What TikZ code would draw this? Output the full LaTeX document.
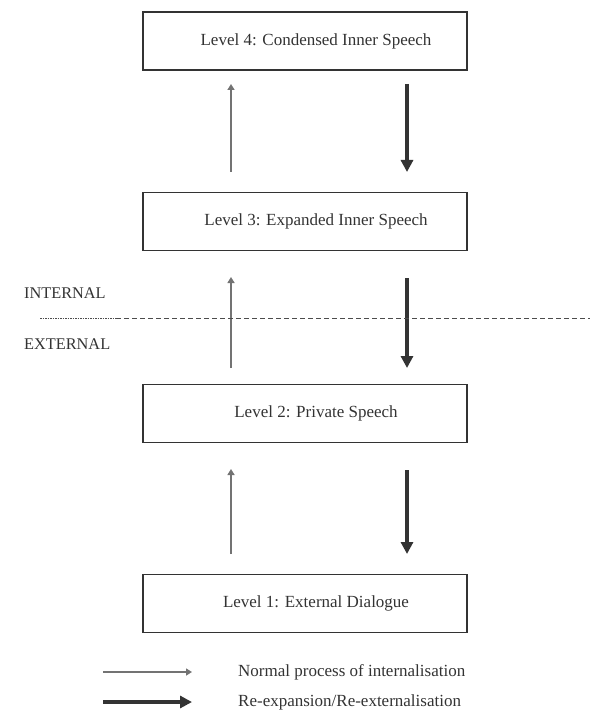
\documentclass[tikz,border=0pt]{standalone}
\usepackage{fontspec}
\setmainfont{Liberation Serif}
\usetikzlibrary{arrows.meta}
\begin{document}
\begin{tikzpicture}[x=1pt,y=-1pt,
  levelbox/.style={draw=black!80,line width=1.4pt,minimum width=324pt,minimum height=58pt,inner sep=0pt},
  leveltext/.style={font=\fontsize{17}{20}\selectfont,text=black!80,inner sep=0pt},
  thinarr/.style={draw=black!55,line width=2.1pt,-{Triangle[length=6pt,width=7pt]}},
  thickarr/.style={draw=black!80,line width=3.1pt,-{Triangle[length=12pt,width=12pt]}},
  side/.style={font=\fontsize{16.3}{19}\selectfont,text=black!80,anchor=west,inner sep=0pt},
  legtext/.style={font=\fontsize{17}{20}\selectfont,text=black!80,anchor=west,inner sep=0pt}]
\useasboundingbox (0,0) rectangle (590,711);
\node[levelbox] (l4) at (305,41) {};
\node[levelbox] (l3) at (305,221.5) {};
\node[levelbox] (l2) at (305,413.5) {};
\node[levelbox] (l1) at (305,603.5) {};
\node[leveltext] (t4) at ([xshift=11pt]l4.center) {Level 4: Condensed Inner Speech};
\node[leveltext] (t3) at ([xshift=11pt]l3.center) {Level 3: Expanded Inner Speech};
\node[leveltext] (t2) at ([xshift=11pt]l2.center) {Level 2: Private Speech};
\node[leveltext] (t1) at ([xshift=11pt]l1.center) {Level 1: External Dialogue};
% arrows between 3 and 4
\coordinate (a1s) at (231,172); \coordinate (a1e) at (231,84);
\coordinate (b1s) at (407,84); \coordinate (b1e) at (407,172);
\draw[thinarr] (a1s) -- (a1e);
\draw[thickarr] (b1s) -- (b1e);
% arrows between 2 and 3
\coordinate (a2s) at (231,368); \coordinate (a2e) at (231,277);
\coordinate (b2s) at (407,278); \coordinate (b2e) at (407,368);
\draw[thinarr] (a2s) -- (a2e);
\draw[thickarr] (b2s) -- (b2e);
% arrows between 1 and 2
\coordinate (a3s) at (231,554); \coordinate (a3e) at (231,469);
\coordinate (b3s) at (407,470); \coordinate (b3e) at (407,554);
\draw[thinarr] (a3s) -- (a3e);
\draw[thickarr] (b3s) -- (b3e);
% divider
\coordinate (d0) at (40,318); \coordinate (d1) at (116,318); \coordinate (d2) at (590,318);
\draw[black!70,line width=0.9pt,dash pattern=on 1.5pt off 1pt] (d0) -- (d1);
\draw[black!70,line width=0.9pt,dash pattern=on 5pt off 3pt] (d1) -- (d2);
\node[side] (int) at (24,293) {INTERNAL};
\node[side] (ext) at (24,344) {EXTERNAL};
% legend
\coordinate (lg1s) at (103,672); \coordinate (lg1e) at (192,672);
\coordinate (lg2s) at (103,702); \coordinate (lg2e) at (192,702);
\draw[thinarr,line width=1.7pt] (lg1s) -- (lg1e);
\draw[thickarr] (lg2s) -- (lg2e);
\node[legtext] (lt1) at (238,672) {Normal process of internalisation};
\node[legtext] (lt2) at (238,702) {Re-expansion/Re-externalisation};
\end{tikzpicture}
\end{document}
